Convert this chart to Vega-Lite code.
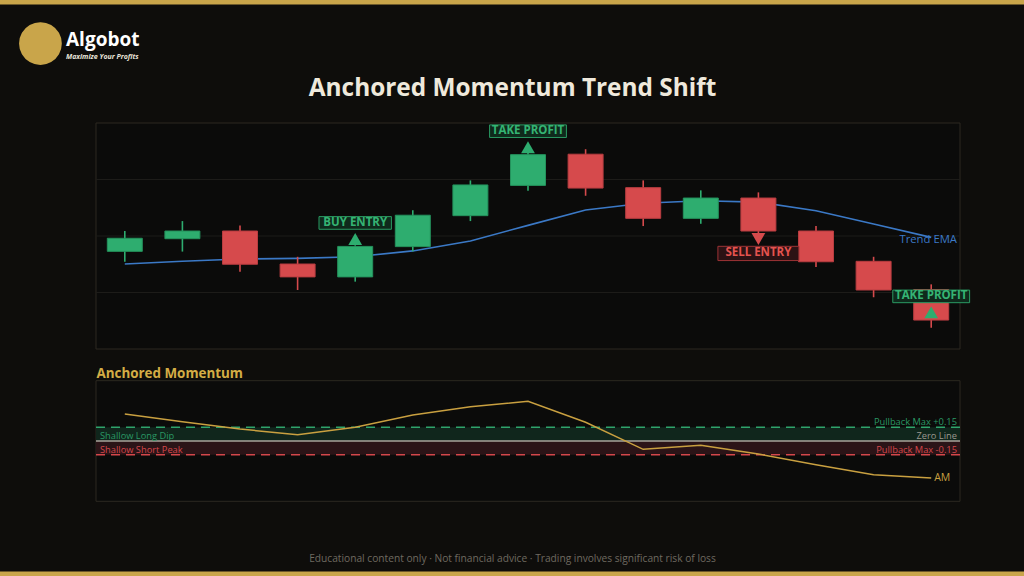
{
  "$schema": "https://vega.github.io/schema/vega-lite/v6.json",
  "width": 1024,
  "height": 576,
  "autosize": {"type": "none"},
  "padding": 0,
  "background": "#0e0d0b",
  "config": {
    "view": {"stroke": "#c9a54a", "strokeWidth": 9, "strokeDash": [1024, 576], "fill": "#0e0d0b"},
    "font": "Open Sans",
    "text": {"font": "Open Sans"}
  },
  "title": {
    "text": "Algobot",
    "subtitle": "Maximize Your Profits",
    "anchor": "start",
    "frame": "group",
    "orient": "top",
    "offset": -60,
    "dx": 66,
    "font": "Open Sans",
    "fontSize": 19,
    "fontWeight": "bold",
    "color": "#ffffff",
    "subtitleFont": "Open Sans",
    "subtitleFontSize": 7,
    "subtitleFontStyle": "italic",
    "subtitleFontWeight": "bold",
    "subtitleColor": "#e8e4da",
    "subtitlePadding": 3
  },
  "datasets": {
    "bars": [
      {"i": 1, "open": 43.2, "high": 52.2, "low": 38.6, "close": 49.0, "ema": 37.6, "am": 0.295},
      {"i": 2, "open": 48.8, "high": 56.6, "low": 43.1, "close": 52.2, "ema": 38.8, "am": 0.211},
      {"i": 3, "open": 52.2, "high": 54.6, "low": 34.2, "close": 37.5, "ema": 39.8, "am": 0.131},
      {"i": 4, "open": 37.6, "high": 40.8, "low": 26.1, "close": 31.9, "ema": 40.1, "am": 0.069},
      {"i": 5, "open": 31.9, "high": 45.9, "low": 29.8, "close": 45.4, "ema": 40.8, "am": 0.15},
      {"i": 6, "open": 45.3, "high": 61.4, "low": 43.2, "close": 59.2, "ema": 43.4, "am": 0.285},
      {"i": 7, "open": 59.0, "high": 74.6, "low": 56.6, "close": 72.6, "ema": 47.8, "am": 0.376},
      {"i": 8, "open": 72.4, "high": 88.1, "low": 70.0, "close": 86.0, "ema": 54.7, "am": 0.434},
      {"i": 9, "open": 86.2, "high": 88.4, "low": 67.8, "close": 71.2, "ema": 61.5, "am": 0.205},
      {"i": 10, "open": 71.4, "high": 74.6, "low": 54.4, "close": 57.8, "ema": 64.5, "am": -0.091},
      {"i": 11, "open": 57.8, "high": 70.2, "low": 55.4, "close": 66.8, "ema": 65.6, "am": -0.047},
      {"i": 12, "open": 66.8, "high": 69.3, "low": 50.4, "close": 52.2, "ema": 65.0, "am": -0.142},
      {"i": 13, "open": 52.2, "high": 54.4, "low": 36.3, "close": 38.6, "ema": 61.2, "am": -0.259},
      {"i": 14, "open": 38.8, "high": 40.8, "low": 22.9, "close": 26.1, "ema": 55.3, "am": -0.369},
      {"i": 15, "open": 26.3, "high": 28.6, "low": 9.4, "close": 12.8, "ema": 49.4, "am": -0.405}
    ],
    "signals": [
      {"i": 5, "kind": "buy", "label": "BUY ENTRY", "level": 48.7},
      {"i": 8, "kind": "tp", "label": "TAKE PROFIT", "level": 89.3},
      {"i": 12, "kind": "sell", "label": "SELL ENTRY", "level": 48.7},
      {"i": 15, "kind": "tp", "label": "TAKE PROFIT", "level": 16.2}
    ],
    "grid": [{"g": 25}, {"g": 50}, {"g": 75}]
  },
  "layer": [
    {
      "layer": [
        {
          "data": {"values": [{}]},
          "mark": {"type": "rect", "fill": "#0b0b0a", "stroke": "#2c2921", "strokeWidth": 1},
          "encoding": {
            "x": {
              "datum": 0.5, "type": "quantitative",
              "scale": {"domain": [0.5, 15.5], "range": [96, 960], "nice": false, "zero": false, "padding": 0},
              "axis": {
                "orient": "top", "title": "Anchored Momentum Trend Shift",
                "titleX": 512, "titleY": 88, "titleAlign": "center", "titleBaseline": "middle", "titleAngle": 0,
                "titleFont": "Open Sans", "titleFontSize": 24.4, "titleFontWeight": "bold", "titleColor": "#efe9dc",
                "labels": false, "ticks": false, "domain": false, "grid": false
              }
            },
            "x2": {"datum": 15.5},
            "y": {
              "datum": 0, "type": "quantitative",
              "scale": {"domain": [0, 100], "range": [349, 123], "nice": false, "zero": false, "padding": 0},
              "axis": {
                "orient": "left", "title": "●",
                "titleX": 40, "titleY": 40, "titleAlign": "center", "titleBaseline": "middle", "titleAngle": 0,
                "titleFont": "DejaVu Sans", "titleFontSize": 56, "titleFontWeight": "normal", "titleColor": "#c9a54a",
                "labels": false, "ticks": false, "domain": false, "grid": false
              }
            },
            "y2": {"datum": 100}
          }
        },
        {
          "data": {"name": "grid"},
          "mark": {"type": "rule", "color": "#1d1c19", "strokeWidth": 1},
          "encoding": {
            "x": {"datum": 0.5, "type": "quantitative"},
            "x2": {"datum": 15.5},
            "y": {"field": "g", "type": "quantitative"}
          }
        },
        {
          "data": {"name": "bars"},
          "mark": {"type": "line", "color": "#3b79c6", "strokeWidth": 1.6},
          "encoding": {
            "x": {"field": "i", "type": "quantitative"},
            "y": {"field": "ema", "type": "quantitative"}
          }
        },
        {
          "data": {"name": "bars"},
          "mark": {"type": "rule", "strokeWidth": 1.6},
          "encoding": {
            "x": {"field": "i", "type": "quantitative"},
            "y": {"field": "low", "type": "quantitative"},
            "y2": {"field": "high"},
            "color": {"condition": {"test": "datum.close >= datum.open", "value": "#2ead6f"}, "value": "#d64a4c"}
          }
        },
        {
          "data": {"name": "bars"},
          "mark": {"type": "bar", "size": 35, "strokeWidth": 1},
          "encoding": {
            "x": {"field": "i", "type": "quantitative"},
            "y": {"field": "open", "type": "quantitative"},
            "y2": {"field": "close"},
            "color": {"condition": {"test": "datum.close >= datum.open", "value": "#2ead6f"}, "value": "#d64a4c"},
            "stroke": {"condition": {"test": "datum.close >= datum.open", "value": "#24925c"}, "value": "#b83d40"}
          }
        },
        {
          "data": {"name": "bars"},
          "transform": [{"filter": "datum.i == 15"}],
          "mark": {"type": "text", "align": "center", "baseline": "middle", "dx": -3, "dy": 3, "fontSize": 11.3, "color": "#3b79c6"},
          "encoding": {
            "x": {"field": "i", "type": "quantitative"},
            "y": {"field": "ema", "type": "quantitative"},
            "text": {"value": "Trend EMA"}
          }
        },
        {
          "data": {"name": "signals"},
          "transform": [{"filter": "datum.kind != 'sell'"}],
          "layer": [
            {
              "mark": {"type": "point", "shape": "triangle-up", "filled": true, "size": 190, "opacity": 1, "color": "#2ead6f"},
              "encoding": {
                "x": {"field": "i", "type": "quantitative"},
                "y": {"field": "level", "type": "quantitative"}
              }
            },
            {
              "mark": {"type": "point", "filled": true, "opacity": 1, "fill": "#0f2a1c", "stroke": "#2a9a62", "strokeWidth": 1, "yOffset": -16},
              "encoding": {
                "x": {"field": "i", "type": "quantitative"},
                "y": {"field": "level", "type": "quantitative"},
                "shape": {"field": "label", "type": "nominal", "legend": null,
                  "scale": {"domain": ["BUY ENTRY", "TAKE PROFIT", "SELL ENTRY"], "range": ["M-1,-0.175L1,-0.175L1,0.175L-1,0.175Z", "M-1,-0.164L1,-0.164L1,0.164L-1,0.164Z", "M-1,-0.176L1,-0.176L1,0.176L-1,0.176Z"]}},
                "size": {"field": "label", "type": "ordinal", "legend": null,
                  "scale": {"domain": ["BUY ENTRY", "TAKE PROFIT", "SELL ENTRY"], "range": [5242, 6561, 5476]}}
              }
            },
            {
              "mark": {"type": "text", "align": "center", "baseline": "middle", "fontSize": 11.5, "fontWeight": "bold", "color": "#35b474", "yOffset": -16},
              "encoding": {
                "x": {"field": "i", "type": "quantitative"},
                "y": {"field": "level", "type": "quantitative"},
                "text": {"field": "label"}
              }
            }
          ]
        },
        {
          "data": {"name": "signals"},
          "transform": [{"filter": "datum.kind == 'sell'"}],
          "layer": [
            {
              "mark": {"type": "point", "shape": "triangle-down", "filled": true, "size": 190, "opacity": 1, "color": "#d64a4c"},
              "encoding": {
                "x": {"field": "i", "type": "quantitative"},
                "y": {"field": "level", "type": "quantitative"}
              }
            },
            {
              "mark": {"type": "point", "filled": true, "opacity": 1, "fill": "#2c1214", "stroke": "#9d3436", "strokeWidth": 1, "yOffset": 14.5},
              "encoding": {
                "x": {"field": "i", "type": "quantitative"},
                "y": {"field": "level", "type": "quantitative"},
                "shape": {"field": "label", "type": "nominal", "legend": null,
                  "scale": {"domain": ["BUY ENTRY", "TAKE PROFIT", "SELL ENTRY"], "range": ["M-1,-0.175L1,-0.175L1,0.175L-1,0.175Z", "M-1,-0.164L1,-0.164L1,0.164L-1,0.164Z", "M-1,-0.176L1,-0.176L1,0.176L-1,0.176Z"]}},
                "size": {"field": "label", "type": "ordinal", "legend": null,
                  "scale": {"domain": ["BUY ENTRY", "TAKE PROFIT", "SELL ENTRY"], "range": [5242, 6561, 5476]}}
              }
            },
            {
              "mark": {"type": "text", "align": "center", "baseline": "middle", "fontSize": 11.5, "fontWeight": "bold", "color": "#e5534f", "yOffset": 14.5},
              "encoding": {
                "x": {"field": "i", "type": "quantitative"},
                "y": {"field": "level", "type": "quantitative"},
                "text": {"field": "label"}
              }
            }
          ]
        }
      ]
    },
    {
      "layer": [
        {
          "data": {"values": [{}]},
          "mark": {"type": "rect", "fill": "#0b0b0a", "stroke": "#2c2921", "strokeWidth": 1},
          "encoding": {
            "x": {
              "datum": 0.5, "type": "quantitative",
              "scale": {"domain": [0.5, 15.5], "range": [96, 960], "nice": false, "zero": false, "padding": 0},
              "axis": {
                "orient": "bottom", "title": "Educational content only  ·  Not financial advice  ·  Trading involves significant risk of loss",
                "titleX": 512, "titleY": -18, "titleAlign": "center", "titleBaseline": "middle", "titleAngle": 0,
                "titleFont": "Open Sans", "titleFontSize": 10.2, "titleFontWeight": "normal", "titleColor": "#6f6a60",
                "labels": false, "ticks": false, "domain": false, "grid": false
              }
            },
            "x2": {"datum": 15.5},
            "y": {
              "datum": -0.66, "type": "quantitative",
              "scale": {"domain": [-0.66, 0.66], "range": [501.3, 380.7], "nice": false, "zero": false, "padding": 0},
              "axis": {
                "orient": "right", "title": "Anchored Momentum",
                "titleX": -928, "titleY": 373, "titleAlign": "left", "titleBaseline": "middle", "titleAngle": 0,
                "titleFont": "Open Sans", "titleFontSize": 13.4, "titleFontWeight": "bold", "titleColor": "#d4ad45",
                "labels": false, "ticks": false, "domain": false, "grid": false
              }
            },
            "y2": {"datum": 0.66}
          }
        },
        {
          "data": {"values": [{}]},
          "mark": {"type": "rect", "fill": "#10261c"},
          "encoding": {
            "x": {"datum": 0.5, "type": "quantitative"},
            "x2": {"datum": 15.5},
            "y": {"datum": 0, "type": "quantitative"},
            "y2": {"datum": 0.15}
          }
        },
        {
          "data": {"values": [{}]},
          "mark": {"type": "rect", "fill": "#2b1417"},
          "encoding": {
            "x": {"datum": 0.5, "type": "quantitative"},
            "x2": {"datum": 15.5},
            "y": {"datum": -0.15, "type": "quantitative"},
            "y2": {"datum": 0}
          }
        },
        {
          "data": {"values": [{}]},
          "mark": {"type": "rule", "color": "#2fa36b", "strokeWidth": 1.5, "strokeDash": [9, 6]},
          "encoding": {
            "x": {"datum": 0.5, "type": "quantitative"},
            "x2": {"datum": 15.5},
            "y": {"datum": 0.15, "type": "quantitative"}
          }
        },
        {
          "data": {"values": [{}]},
          "mark": {"type": "rule", "color": "#d4474b", "strokeWidth": 1.5, "strokeDash": [9, 6]},
          "encoding": {
            "x": {"datum": 0.5, "type": "quantitative"},
            "x2": {"datum": 15.5},
            "y": {"datum": -0.15, "type": "quantitative"}
          }
        },
        {
          "data": {"values": [{}]},
          "mark": {"type": "rule", "color": "#a8a49b", "strokeWidth": 1.3},
          "encoding": {
            "x": {"datum": 0.5, "type": "quantitative"},
            "x2": {"datum": 15.5},
            "y": {"datum": 0, "type": "quantitative"}
          }
        },
        {
          "data": {"name": "bars"},
          "mark": {"type": "line", "color": "#c9a040", "strokeWidth": 1.5},
          "encoding": {
            "x": {"field": "i", "type": "quantitative"},
            "y": {"field": "am", "type": "quantitative"}
          }
        },
        {
          "data": {"name": "bars"},
          "transform": [{"filter": "datum.i == 15"}],
          "mark": {"type": "text", "align": "left", "baseline": "middle", "dx": 3, "fontSize": 10.5, "color": "#c9a040"},
          "encoding": {
            "x": {"field": "i", "type": "quantitative"},
            "y": {"field": "am", "type": "quantitative"},
            "text": {"value": "AM"}
          }
        },
        {
          "data": {"values": [{}]},
          "mark": {"type": "text", "align": "right", "baseline": "middle", "dx": -3, "dy": -5, "fontSize": 9.3, "color": "#2a9864"},
          "encoding": {
            "x": {"datum": 15.5, "type": "quantitative"},
            "y": {"datum": 0.15, "type": "quantitative"},
            "text": {"value": "Pullback Max +0.15"}
          }
        },
        {
          "data": {"values": [{}]},
          "mark": {"type": "text", "align": "right", "baseline": "middle", "dx": -3, "dy": -5, "fontSize": 9.3, "color": "#9c988f"},
          "encoding": {
            "x": {"datum": 15.5, "type": "quantitative"},
            "y": {"datum": 0, "type": "quantitative"},
            "text": {"value": "Zero Line"}
          }
        },
        {
          "data": {"values": [{}]},
          "mark": {"type": "text", "align": "right", "baseline": "middle", "dx": -3, "dy": -5, "fontSize": 9.3, "color": "#d4474b"},
          "encoding": {
            "x": {"datum": 15.5, "type": "quantitative"},
            "y": {"datum": -0.15, "type": "quantitative"},
            "text": {"value": "Pullback Max -0.15"}
          }
        },
        {
          "data": {"values": [{}]},
          "mark": {"type": "text", "align": "left", "baseline": "middle", "dx": 4, "dy": -5, "fontSize": 9.3, "color": "#2a9864"},
          "encoding": {
            "x": {"datum": 0.5, "type": "quantitative"},
            "y": {"datum": 0, "type": "quantitative"},
            "text": {"value": "Shallow Long Dip"}
          }
        },
        {
          "data": {"values": [{}]},
          "mark": {"type": "text", "align": "left", "baseline": "middle", "dx": 4, "dy": -5, "fontSize": 9.3, "color": "#d4474b"},
          "encoding": {
            "x": {"datum": 0.5, "type": "quantitative"},
            "y": {"datum": -0.15, "type": "quantitative"},
            "text": {"value": "Shallow Short Peak"}
          }
        }
      ]
    }
  ],
  "resolve": {
    "scale": {"x": "independent", "y": "independent"},
    "axis": {"x": "independent", "y": "independent"}
  }
}
